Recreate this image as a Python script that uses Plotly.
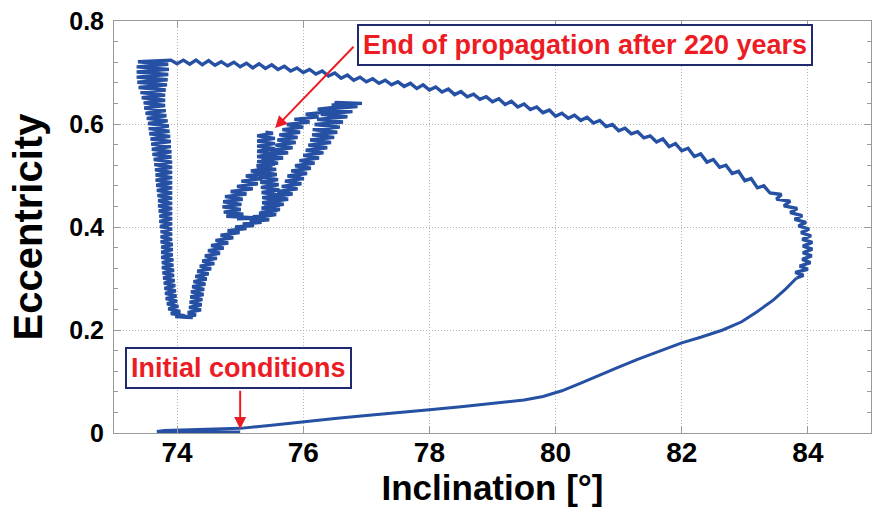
import plotly.graph_objects as go

# ---------------- data (inclination [deg], eccentricity) ----------------
lower_branch = [
    (75.00, 0.002), (74.40, 0.002), (73.72, 0.002), (73.68, 0.003), (73.80, 0.005),
    (74.20, 0.006), (74.60, 0.007), (75.00, 0.009), (75.50, 0.015), (76.00, 0.022),
    (76.50, 0.028), (77.00, 0.034), (77.50, 0.039), (78.00, 0.045), (78.50, 0.051),
    (79.00, 0.057), (79.50, 0.064), (79.80, 0.071), (80.10, 0.082), (80.40, 0.097),
    (80.70, 0.113), (81.00, 0.128), (81.30, 0.143), (81.60, 0.157), (82.00, 0.175),
    (82.30, 0.186), (82.65, 0.200), (82.95, 0.216), (83.20, 0.236), (83.45, 0.258),
    (83.65, 0.280), (83.82, 0.301),
]

right_arc = [
    (83.93, 0.306), (83.80, 0.312), (84.00, 0.318), (83.87, 0.324), (84.04, 0.331),
    (83.91, 0.337), (84.06, 0.344), (83.92, 0.350), (84.07, 0.357), (83.92, 0.363),
    (84.07, 0.370), (83.91, 0.376), (84.05, 0.383), (83.89, 0.389), (84.02, 0.396),
    (83.85, 0.402), (83.97, 0.409), (83.79, 0.415), (83.91, 0.422), (83.72, 0.428),
    (83.83, 0.436), (83.62, 0.441), (83.72, 0.450), (83.50, 0.454), (83.58, 0.463),
    (83.40, 0.466),
]

top_branch = [
    (83.3, 0.480), (83.2, 0.476), (83.1, 0.494), (83.0, 0.490), (82.9, 0.508),
    (82.8, 0.504), (82.7, 0.520), (82.6, 0.516), (82.5, 0.531), (82.4, 0.526),
    (82.3, 0.542), (82.2, 0.537), (82.1, 0.553), (82.0, 0.548),
    (81.9, 0.562), (81.8, 0.556), (81.7, 0.571), (81.6, 0.565), (81.5, 0.577),
    (81.4, 0.573), (81.3, 0.585), (81.2, 0.581), (81.1, 0.592), (81.0, 0.587),
    (80.9, 0.599), (80.8, 0.595), (80.7, 0.607), (80.6, 0.602), (80.5, 0.613),
    (80.4, 0.607), (80.3, 0.617), (80.2, 0.611), (80.1, 0.621), (80.0, 0.615),
    (79.9, 0.627), (79.8, 0.622), (79.7, 0.633), (79.6, 0.628), (79.5, 0.639),
    (79.4, 0.633), (79.3, 0.644), (79.2, 0.638), (79.1, 0.649), (79.0, 0.643),
    (78.9, 0.653), (78.8, 0.648), (78.7, 0.658), (78.6, 0.653), (78.5, 0.663),
    (78.4, 0.657), (78.3, 0.668), (78.2, 0.662), (78.1, 0.672), (78.0, 0.666),
    (77.9, 0.676), (77.8, 0.669), (77.7, 0.679), (77.6, 0.673), (77.5, 0.682),
    (77.4, 0.676), (77.3, 0.685), (77.2, 0.679), (77.1, 0.688), (77.0, 0.682),
    (76.9, 0.691), (76.8, 0.685), (76.7, 0.695), (76.6, 0.689), (76.5, 0.699),
    (76.4, 0.693), (76.3, 0.703), (76.2, 0.697), (76.1, 0.706), (76.0, 0.700),
    (75.9, 0.709), (75.8, 0.703), (75.7, 0.712), (75.6, 0.706), (75.5, 0.715),
    (75.4, 0.708), (75.3, 0.717), (75.2, 0.709), (75.1, 0.718), (75.0, 0.711),
    (74.9, 0.720), (74.8, 0.713), (74.7, 0.721), (74.6, 0.714), (74.5, 0.723),
    (74.4, 0.715), (74.3, 0.724), (74.2, 0.716), (74.1, 0.724), (74.0, 0.717),
    (73.9, 0.724),
]

left_descent = [
    (73.38, 0.721), (73.86, 0.716), (73.36, 0.711), (73.87, 0.706), (73.36, 0.701),
    (73.86, 0.696), (73.36, 0.691), (73.85, 0.686), (73.37, 0.681), (73.84, 0.676),
    (73.39, 0.671), (73.82, 0.666), (73.42, 0.661), (73.81, 0.656), (73.44, 0.651),
    (73.81, 0.646), (73.47, 0.641), (73.81, 0.636), (73.48, 0.631), (73.82, 0.626),
    (73.50, 0.621), (73.83, 0.616), (73.52, 0.611), (73.85, 0.606), (73.54, 0.601),
    (73.87, 0.596), (73.55, 0.591), (73.88, 0.586), (73.56, 0.581), (73.89, 0.576),
    (73.58, 0.571), (73.90, 0.566), (73.59, 0.561), (73.90, 0.556), (73.60, 0.551),
    (73.91, 0.546), (73.61, 0.541), (73.91, 0.536), (73.63, 0.531), (73.92, 0.526),
    (73.64, 0.521), (73.92, 0.516), (73.65, 0.511), (73.92, 0.506), (73.66, 0.501),
    (73.92, 0.496), (73.66, 0.491), (73.92, 0.486), (73.67, 0.481), (73.92, 0.476),
    (73.68, 0.471), (73.92, 0.466), (73.69, 0.461), (73.92, 0.456), (73.70, 0.451),
    (73.92, 0.446), (73.70, 0.441), (73.92, 0.436), (73.71, 0.431), (73.92, 0.426),
    (73.72, 0.421), (73.92, 0.416), (73.72, 0.411), (73.92, 0.406), (73.73, 0.401),
    (73.92, 0.396), (73.74, 0.391), (73.92, 0.386), (73.74, 0.381), (73.92, 0.376),
    (73.74, 0.371), (73.93, 0.366), (73.75, 0.361), (73.93, 0.356), (73.75, 0.351),
    (73.93, 0.346), (73.75, 0.341), (73.94, 0.336), (73.76, 0.331), (73.94, 0.326),
    (73.76, 0.321), (73.95, 0.316), (73.77, 0.311), (73.95, 0.306), (73.78, 0.301),
    (73.96, 0.296), (73.79, 0.291), (73.97, 0.286), (73.80, 0.281), (73.98, 0.276),
    (73.81, 0.271), (73.99, 0.266), (73.82, 0.261), (74.00, 0.256), (73.84, 0.251),
    (74.02, 0.246),
]

v_bottom = [
    (73.86, 0.241), (74.05, 0.236), (73.90, 0.232), (74.12, 0.228), (73.97, 0.226),
    (74.25, 0.224), (74.05, 0.225), (74.30, 0.229),
]

rising_branch = [
    (74.17, 0.234), (74.38, 0.239), (74.19, 0.244), (74.39, 0.249), (74.20, 0.254),
    (74.40, 0.259), (74.21, 0.264), (74.42, 0.269), (74.22, 0.274), (74.43, 0.279),
    (74.24, 0.284), (74.45, 0.289), (74.26, 0.294), (74.47, 0.299), (74.29, 0.304),
    (74.50, 0.309), (74.32, 0.314), (74.54, 0.319), (74.36, 0.324), (74.59, 0.329),
    (74.40, 0.334), (74.63, 0.339), (74.44, 0.344), (74.68, 0.349), (74.49, 0.354),
    (74.74, 0.359), (74.54, 0.364), (74.81, 0.369), (74.61, 0.374), (74.89, 0.379),
    (74.69, 0.384), (74.99, 0.389), (74.80, 0.393), (75.10, 0.397), (74.92, 0.400),
    (75.22, 0.403), (75.04, 0.406), (75.34, 0.409), (75.15, 0.411), (75.46, 0.414),
]

loop_right_band = [
    (75.28, 0.419), (75.57, 0.424), (75.33, 0.429), (75.63, 0.434), (75.38, 0.439),
    (75.69, 0.444), (75.45, 0.449), (75.76, 0.454), (75.52, 0.459), (75.83, 0.464),
    (75.59, 0.469), (75.91, 0.474), (75.66, 0.479), (75.97, 0.484), (75.71, 0.489),
    (76.01, 0.494), (75.75, 0.499), (76.06, 0.504), (75.81, 0.509), (76.12, 0.514),
    (75.87, 0.519), (76.18, 0.524), (75.94, 0.529), (76.25, 0.534), (76.00, 0.539),
    (76.32, 0.544), (76.04, 0.549), (76.38, 0.554), (76.08, 0.559), (76.44, 0.564),
    (76.11, 0.569), (76.49, 0.574), (76.14, 0.579), (76.54, 0.584), (76.15, 0.589),
    (76.58, 0.594), (76.18, 0.599), (76.63, 0.604), (76.22, 0.609), (76.70, 0.614),
    (76.28, 0.619), (76.78, 0.624), (76.36, 0.629), (76.86, 0.634), (76.45, 0.637),
    (76.93, 0.640), (76.50, 0.642),
]

loop_left_band = [
    (76.62, 0.634), (76.23, 0.629), (76.44, 0.624), (76.04, 0.619), (76.24, 0.614),
    (75.86, 0.609), (76.10, 0.604), (75.74, 0.599), (76.00, 0.594), (75.67, 0.589),
    (75.95, 0.584), (75.62, 0.579), (75.91, 0.574), (75.59, 0.569), (75.88, 0.564),
    (75.56, 0.559), (75.83, 0.554), (75.49, 0.549), (75.76, 0.544), (75.42, 0.539),
    (75.68, 0.534), (75.34, 0.529), (75.60, 0.524), (75.26, 0.519), (75.51, 0.514),
    (75.17, 0.509), (75.43, 0.504), (75.09, 0.499), (75.35, 0.494), (75.02, 0.489),
    (75.28, 0.484), (74.95, 0.479), (75.20, 0.474), (74.85, 0.469), (75.10, 0.464),
    (74.76, 0.459), (75.04, 0.454), (74.73, 0.449), (75.02, 0.444), (74.72, 0.439),
    (75.01, 0.434), (74.74, 0.429),
]

loop_bottom = [
    (75.05, 0.425), (74.78, 0.421), (75.20, 0.418), (74.95, 0.416), (75.40, 0.417),
    (75.20, 0.420), (75.55, 0.424),
]

final_stem = [
    (75.30, 0.427), (75.59, 0.432), (75.34, 0.437), (75.63, 0.442), (75.35, 0.447),
    (75.63, 0.452), (75.35, 0.457), (75.63, 0.462), (75.34, 0.467), (75.62, 0.472),
    (75.33, 0.477), (75.61, 0.482), (75.32, 0.487), (75.60, 0.492), (75.30, 0.497),
    (75.58, 0.502), (75.29, 0.507), (75.57, 0.512), (75.27, 0.517), (75.55, 0.522),
    (75.27, 0.527), (75.55, 0.532), (75.27, 0.537), (75.55, 0.542), (75.27, 0.547),
    (75.55, 0.552), (75.27, 0.557), (75.55, 0.562), (75.27, 0.567), (75.55, 0.572),
    (75.27, 0.577), (75.52, 0.582), (75.40, 0.584),
]

x_ticks = [74, 76, 78, 80, 82, 84]
y_ticks = [0, 0.2, 0.4, 0.6, 0.8]
y_tick_labels = ["0", "0.2", "0.4", "0.6", "0.8"]

# ---------------- build figure ----------------
LINE_BLUE = "#2550a3"
RED = "#ed1c24"
NAVY = "#1f2b6e"
AXIS_GREY = "#9a9a9a"
GRID_GREY = "#b4b4b4"
BOLD = "Liberation Sans, Arial, sans-serif"

fig = go.Figure()

# smooth early part of the trajectory
fig.add_trace(go.Scatter(x=[p[0] for p in lower_branch], y=[p[1] for p in lower_branch],
                         mode="lines", line=dict(color=LINE_BLUE, width=3.0),
                         hoverinfo="skip", showlegend=False))

# oscillating remainder (starts at the last point of the smooth part)
wiggly = [lower_branch[-1]] + [p for seg in [right_arc, top_branch, left_descent, v_bottom,
                                             rising_branch, loop_right_band, loop_left_band,
                                             loop_bottom, final_stem] for p in seg]
fig.add_trace(go.Scatter(x=[p[0] for p in wiggly], y=[p[1] for p in wiggly],
                         mode="lines", line=dict(color=LINE_BLUE, width=3.4),
                         hoverinfo="skip", showlegend=False))

fig.update_layout(
    width=872, height=516,
    margin=dict(l=114, r=1, t=21, b=83),
    paper_bgcolor="white", plot_bgcolor="white",
    showlegend=False,
)

fig.update_xaxes(
    range=[73, 85], tickvals=x_ticks, ticktext=[str(v) for v in x_ticks],
    ticks="inside", ticklen=7, tickcolor=AXIS_GREY, tickwidth=1,
    showline=True, linecolor=AXIS_GREY, linewidth=1, mirror="ticks",
    showgrid=True, gridcolor=GRID_GREY, griddash="1px,2px", gridwidth=1,
    zeroline=False,
    tickfont=dict(family=BOLD, size=28, color="black", weight="bold"),
    ticklabelposition="outside", ticklabelstandoff=-6,
    title=dict(text="Inclination [°]", standoff=0,
               font=dict(family=BOLD, size=35, color="black", weight="bold")),
)
fig.update_yaxes(
    range=[0, 0.8], tickvals=y_ticks, ticktext=y_tick_labels,
    ticks="inside", ticklen=7, tickcolor=AXIS_GREY, tickwidth=1,
    minor=dict(dtick=0.04, tick0=0, ticks="inside", ticklen=4, tickcolor=AXIS_GREY, showgrid=False),
    showline=True, linecolor=AXIS_GREY, linewidth=1, mirror="ticks",
    showgrid=True, gridcolor=GRID_GREY, griddash="1px,2px", gridwidth=1,
    zeroline=False,
    tickfont=dict(family=BOLD, size=25, color="black", weight="bold"),
    ticklabelstandoff=4,
    title=dict(text="Eccentricity", standoff=14,
               font=dict(family=BOLD, size=40, color="black", weight="bold")),
)

ann_font = dict(family=BOLD, size=27, color=RED, weight="bold")
fig.add_annotation(x=80.47, y=0.753, xref="x", yref="y", text="End of propagation after 220 years",
                   showarrow=False, font=ann_font, bgcolor="white",
                   bordercolor=NAVY, borderwidth=2, borderpad=4,
                   xanchor="center", yanchor="middle")
fig.add_annotation(x=75.553, y=0.592, xref="x", yref="y", ax=76.82, ay=0.753,
                   axref="x", ayref="y", text="", showarrow=True,
                   arrowhead=2, arrowsize=1.2, arrowwidth=2, arrowcolor=RED)
fig.add_annotation(x=74.98, y=0.126, xref="x", yref="y", text="Initial conditions",
                   showarrow=False, font=ann_font, bgcolor="white",
                   bordercolor=NAVY, borderwidth=2, borderpad=4,
                   xanchor="center", yanchor="middle")
fig.add_annotation(x=75.0, y=0.008, xref="x", yref="y", ax=75.0, ay=0.085,
                   axref="x", ayref="y", text="", showarrow=True,
                   arrowhead=2, arrowsize=1.2, arrowwidth=2, arrowcolor=RED)

fig.write_html("out.html")
